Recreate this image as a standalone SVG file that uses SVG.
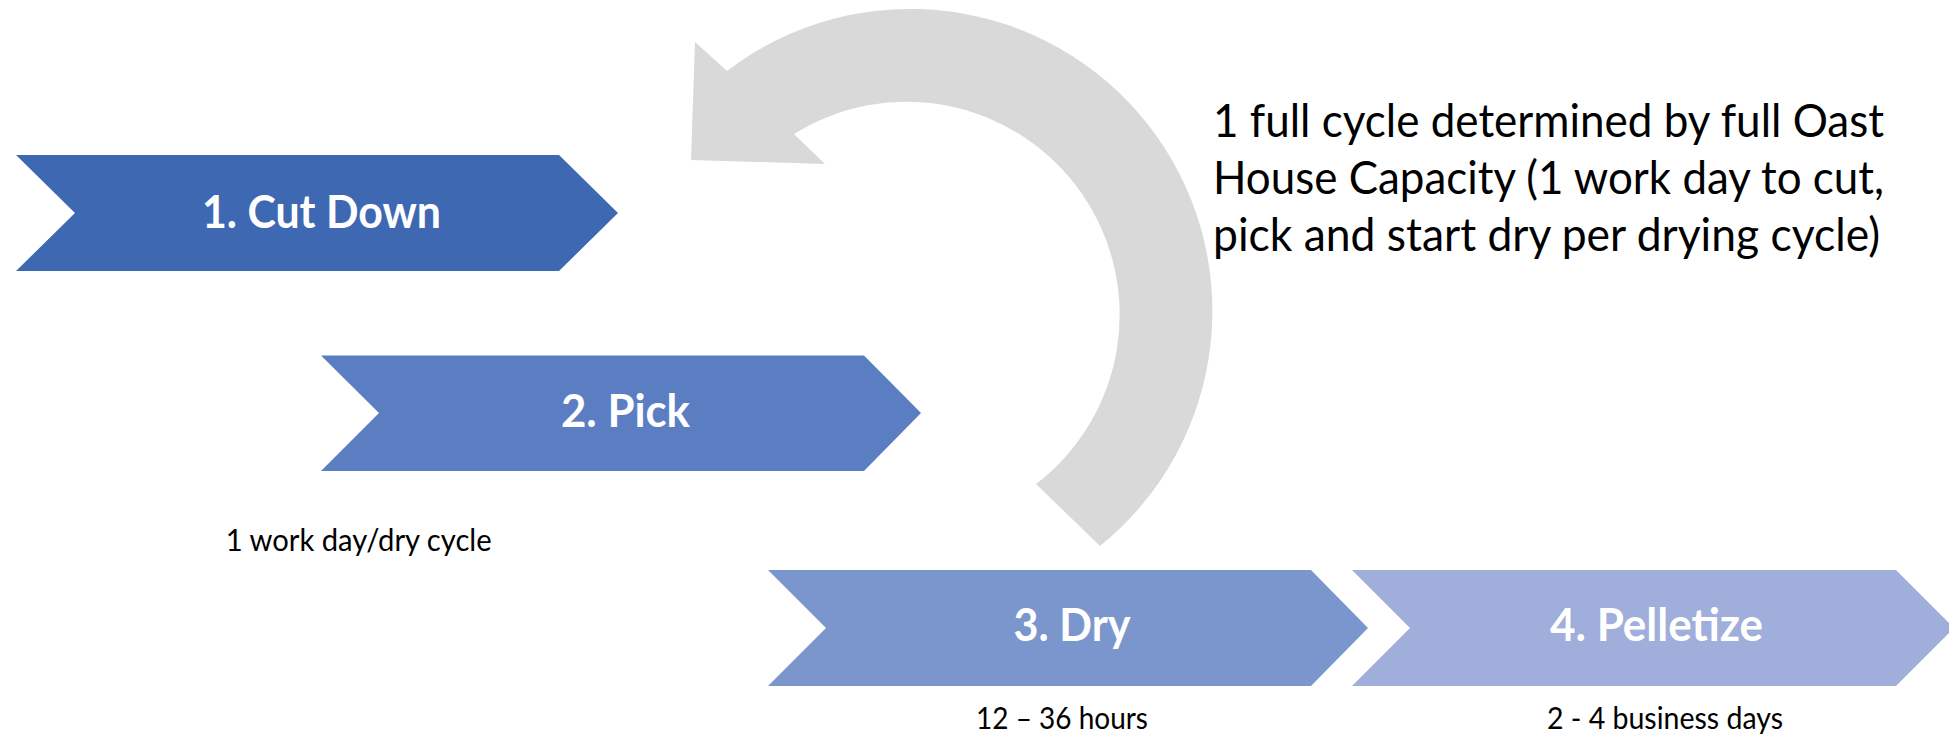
<svg xmlns="http://www.w3.org/2000/svg" width="1949" height="735" viewBox="0 0 1949 735">
<style>
.lbl{font-family:Lato,"Open Sans","Liberation Sans",sans-serif;font-weight:bold;font-size:45px;fill:#ffffff;text-anchor:middle}
.note{font-family:Lato,"Open Sans","Liberation Sans",sans-serif;font-size:30px;fill:#000000;text-anchor:middle}
.big{font-family:Lato,"Open Sans","Liberation Sans",sans-serif;font-size:46px;fill:#000000}
</style>
<rect width="1949" height="735" fill="#ffffff"/>
<g id="connectors">
<path id="cycle-arrow" d="M727 71 A302 302 0 0 1 1100 546 L1036 484 A213 213 0 0 0 794 134 L825 164 L691 160 L695 42 Z" fill="#D9D9D9"/>
</g>
<g id="step1">
<polygon points="16,155 559,155 618,213 559,271 16,271 75,213" fill="#3F68B2"/>
<text class="lbl" x="321.5" y="228" textLength="239" lengthAdjust="spacingAndGlyphs">1. Cut Down</text>
</g>
<g id="step2">
<polygon points="321,355.5 864,355.5 921,413 864,471 321,471 379,413" fill="#5B7EC3"/>
<text class="lbl" x="625.5" y="427" textLength="129" lengthAdjust="spacingAndGlyphs">2. Pick</text>
</g>
<g id="step3">
<polygon points="768,570 1311,570 1368,628 1311,686 768,686 826,628" fill="#7B96CD"/>
<text class="lbl" x="1072" y="641" textLength="117" lengthAdjust="spacingAndGlyphs">3. Dry</text>
</g>
<g id="step4">
<polygon points="1352,570 1896,570 1954,628 1896,686 1352,686 1410,628" fill="#9FAEDA"/>
<text class="lbl" x="1656.5" y="641" textLength="213" lengthAdjust="spacingAndGlyphs">4. Pelletize</text>
</g>
<g id="notes">
<text class="note" x="358.7" y="551" textLength="266" lengthAdjust="spacingAndGlyphs">1 work day/dry cycle</text>
<text class="note" x="1062" y="729" textLength="172" lengthAdjust="spacingAndGlyphs">12 – 36 hours</text>
<text class="note" x="1665" y="729" textLength="236" lengthAdjust="spacingAndGlyphs">2 - 4 business days</text>
</g>
<g id="cycle-note">
<text class="big" x="1213" y="137" textLength="671" lengthAdjust="spacingAndGlyphs">1 full cycle determined by full Oast</text>
<text class="big" x="1213" y="194" textLength="671" lengthAdjust="spacingAndGlyphs">House Capacity (1 work day to cut,</text>
<text class="big" x="1213" y="251" textLength="667" lengthAdjust="spacingAndGlyphs">pick and start dry per drying cycle)</text>
</g>
</svg>
